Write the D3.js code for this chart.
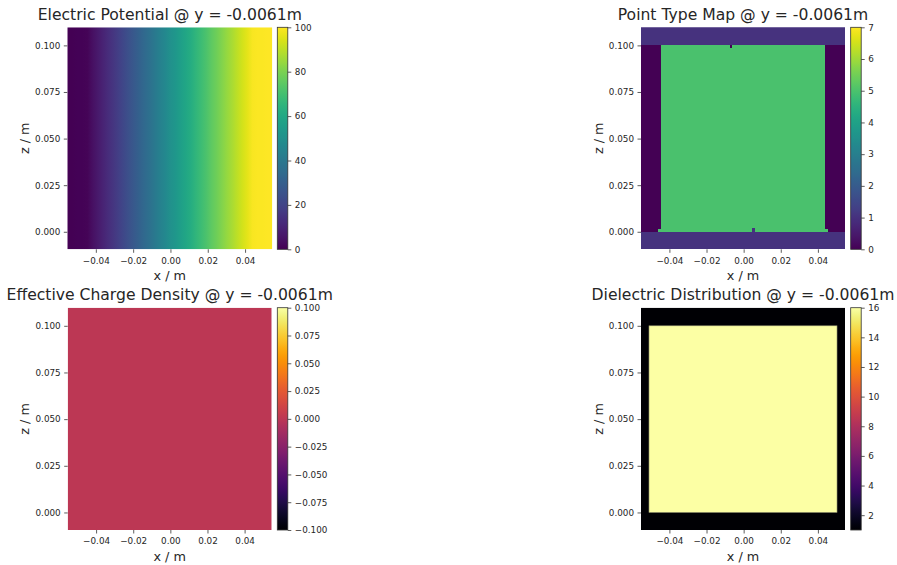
<!DOCTYPE html>
<html>
<head>
<meta charset="utf-8">
<script src="https://cdn.jsdelivr.net/npm/d3@7"></script>
<style>
  html, body { margin: 0; padding: 0; background: #fff; }
  svg text { font-family: "DejaVu Sans", sans-serif; fill: #262626; }
</style>
</head>
<body>
<svg id="chart" width="897" height="565"></svg>
<script>
// ---------------- data ----------------
const sliceLabel = "y = -0.0061m";
const titles = [
  "Electric Potential @ " + sliceLabel,
  "Point Type Map @ " + sliceLabel,
  "Effective Charge Density @ " + sliceLabel,
  "Dielectric Distribution @ " + sliceLabel
];
const xExtent = [-0.0553, 0.0546];
const zExtent = [-0.0094, 0.1097];
const xTicks = [-0.04, -0.02, 0.0, 0.02, 0.04];
const zTicks = [0.0, 0.025, 0.05, 0.075, 0.1];

// potential profile along x (same for every z)
const potentialX = [-0.0553, -0.0445, -0.033, -0.022, -0.011, 0.0, 0.011, 0.022, 0.033, 0.0440, 0.0546];
const potentialV = [0, 1, 13, 25, 37, 50, 62, 75, 87, 99, 100];
const potentialDomain = [0, 100];
const potentialTicks = [0, 20, 40, 60, 80, 100];

// point type map cells: [x0, x1, z0, z1, type]
const pointTypeCells = [
  [-0.0553, 0.0546, 0.1, 0.1097, 1],
  [-0.0553, 0.0546, -0.0094, 0.0, 1],
  [-0.0553, -0.0445, 0.0, 0.1, 0],
  [0.0440, 0.0546, 0.0, 0.1, 0],
  [-0.0445, 0.0440, 0.0, 0.1, 5],
  [-0.0461, -0.0445, 0.0, 0.0016, 5],
  [0.0440, 0.0456, 0.0, 0.0016, 5],
  [0.0045, 0.0063, 0.0, 0.0018, 1],
  [-0.0075, -0.0063, 0.0987, 0.1, 0]
];
const typeDomain = [0, 7];
const typeTicks = [0, 1, 2, 3, 4, 5, 6, 7];

// effective charge density: uniform value
const chargeValue = 0.0;
const chargeDomain = [-0.1, 0.1];
const chargeTicks = [-0.1, -0.075, -0.05, -0.025, 0.0, 0.025, 0.05, 0.075, 0.1];

// dielectric: [x0, x1, z0, z1, eps]
const dielectricCells = [
  [-0.0553, 0.0546, -0.0094, 0.1097, 1],
  [-0.0510, 0.0503, 0.0, 0.1, 16]
];
const dielectricDomain = [1, 16];
const dielectricTicks = [2, 4, 6, 8, 10, 12, 14, 16];

// ---------------- layout ----------------
const svg = d3.select("#chart");
const defs = svg.append("defs");
const panels = [
  { left: 67.3, top: 27.3, w: 205, h: 222, cbX: 277.3 },
  { left: 641, top: 27.3, w: 204, h: 222, cbX: 850.7 },
  { left: 67.7, top: 307.7, w: 204, h: 222.3, cbX: 277.3 },
  { left: 641, top: 307.7, w: 204, h: 222.3, cbX: 850.7 }
];
const cbW = 10.5;
const tickLen = 3.5;
const tickColor = "#333";

function makePanel(i, cmap, cDomain, cTicks, cFormat, drawFn) {
  const p = panels[i];
  const g = svg.append("g");
  const x = d3.scaleLinear().domain(xExtent).range([p.left, p.left + p.w]);
  const y = d3.scaleLinear().domain(zExtent).range([p.top + p.h, p.top]);
  const color = d3.scaleSequential(cmap).domain(cDomain);
  const clipId = "clip" + i;
  defs.append("clipPath").attr("id", clipId).append("rect")
    .attr("x", p.left).attr("y", p.top).attr("width", p.w).attr("height", p.h);
  const plot = g.append("g").attr("clip-path", "url(#" + clipId + ")");
  drawFn(plot, x, y, color, i);

  // x axis
  const xa = g.append("g").attr("transform", `translate(0,${p.top + p.h})`)
    .call(d3.axisBottom(x).tickValues(xTicks).tickFormat(d3.format(".2f")).tickSize(tickLen).tickPadding(4.5));
  xa.select(".domain").remove();
  xa.selectAll("line").attr("stroke", tickColor).attr("stroke-width", 0.8);
  xa.selectAll("text").style("font-size", "8.8px").attr("fill", "#262626");
  // y axis
  const ya = g.append("g").attr("transform", `translate(${p.left},0)`)
    .call(d3.axisLeft(y).tickValues(zTicks).tickFormat(d3.format(".3f")).tickSize(tickLen).tickPadding(3.5));
  ya.select(".domain").remove();
  ya.selectAll("line").attr("stroke", tickColor).attr("stroke-width", 0.8);
  ya.selectAll("text").style("font-size", "8.8px").attr("fill", "#262626");

  // labels
  g.append("text").attr("x", p.left + p.w / 2).attr("y", p.top + p.h + 31)
    .attr("text-anchor", "middle").style("font-size", "12.8px").text("x / m");
  g.append("text")
    .attr("transform", `translate(${p.left - 38.5},${p.top + p.h / 2}) rotate(-90)`)
    .attr("text-anchor", "middle").style("font-size", "12.8px").text("z / m");
  g.append("text").attr("x", p.left + p.w / 2).attr("y", p.top - 7.3)
    .attr("text-anchor", "middle").style("font-size", "15.6px").text(titles[i]);

  // colorbar
  const gid = "cbgrad" + i;
  const grad = defs.append("linearGradient").attr("id", gid)
    .attr("x1", "0").attr("y1", "1").attr("x2", "0").attr("y2", "0");
  d3.range(0, 1.0001, 0.02).forEach(t => {
    grad.append("stop").attr("offset", t).attr("stop-color", cmap(t));
  });
  const cy = d3.scaleLinear().domain(cDomain).range([p.top + p.h, p.top]);
  g.append("rect").attr("x", p.cbX).attr("y", p.top).attr("width", cbW).attr("height", p.h)
    .attr("fill", `url(#${gid})`).attr("stroke", "#333").attr("stroke-width", 0.8);
  const ca = g.append("g").attr("transform", `translate(${p.cbX + cbW},0)`)
    .call(d3.axisRight(cy).tickValues(cTicks).tickFormat(cFormat).tickSize(tickLen).tickPadding(3.5));
  ca.select(".domain").remove();
  ca.selectAll("line").attr("stroke", tickColor).attr("stroke-width", 0.8);
  ca.selectAll("text").style("font-size", "8.8px").attr("fill", "#262626");
}

// Panel 1: electric potential
makePanel(0, d3.interpolateViridis, potentialDomain, potentialTicks, d3.format("d"), (plot, x, y, color, i) => {
  const gid = "potgrad";
  const x0 = x(potentialX[0]), x1 = x(potentialX[potentialX.length - 1]);
  const grad = defs.append("linearGradient").attr("id", gid)
    .attr("gradientUnits", "userSpaceOnUse")
    .attr("x1", x0).attr("x2", x1).attr("y1", 0).attr("y2", 0);
  potentialX.forEach((px, k) => {
    grad.append("stop").attr("offset", (x(px) - x0) / (x1 - x0)).attr("stop-color", color(potentialV[k]));
    if (k < potentialX.length - 1) {
      const nx = potentialX[k + 1];
      for (let s = 1; s < 4; s++) {
        const f = s / 4;
        const xv = px + (nx - px) * f;
        const vv = potentialV[k] + (potentialV[k + 1] - potentialV[k]) * f;
        grad.append("stop").attr("offset", (x(xv) - x0) / (x1 - x0)).attr("stop-color", color(vv));
      }
    }
  });
  plot.append("rect").attr("x", x0).attr("y", y(zExtent[1]))
    .attr("width", x1 - x0).attr("height", y(zExtent[0]) - y(zExtent[1]))
    .attr("fill", `url(#${gid})`);
});

// Panel 2: point type map
makePanel(1, d3.interpolateViridis, typeDomain, typeTicks, d3.format("d"), (plot, x, y, color) => {
  plot.selectAll("rect.cell").data(pointTypeCells).join("rect").attr("class", "cell")
    .attr("x", d => x(d[0])).attr("width", d => x(d[1]) - x(d[0]))
    .attr("y", d => y(d[3])).attr("height", d => y(d[2]) - y(d[3]))
    .attr("fill", d => color(d[4])).attr("shape-rendering", "crispEdges");
});

// Panel 3: charge density
makePanel(2, d3.interpolateInferno, chargeDomain, chargeTicks, d3.format(".3f"), (plot, x, y, color) => {
  plot.append("rect").datum(chargeValue)
    .attr("x", x(xExtent[0])).attr("width", x(xExtent[1]) - x(xExtent[0]))
    .attr("y", y(zExtent[1])).attr("height", y(zExtent[0]) - y(zExtent[1]))
    .attr("fill", d => color(d));
});

// Panel 4: dielectric
makePanel(3, d3.interpolateInferno, dielectricDomain, dielectricTicks, d3.format("d"), (plot, x, y, color) => {
  plot.selectAll("rect.cell").data(dielectricCells).join("rect").attr("class", "cell")
    .attr("x", d => x(d[0])).attr("width", d => x(d[1]) - x(d[0]))
    .attr("y", d => y(d[3])).attr("height", d => y(d[2]) - y(d[3]))
    .attr("fill", d => color(d[4]))
    .attr("stroke", (d, k) => k > 0 ? "#8a8a6a" : "none").attr("stroke-width", 0.6);
});
</script>
</body>
</html>
